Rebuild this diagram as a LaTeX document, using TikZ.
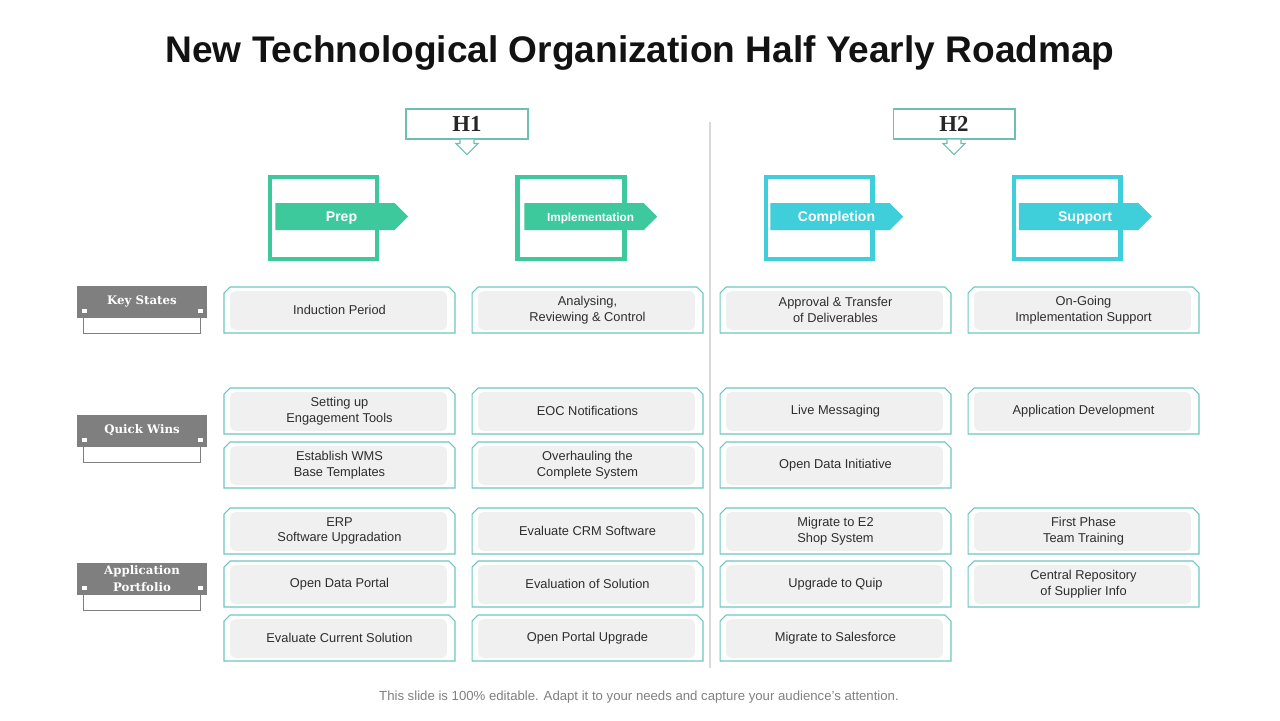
\documentclass[tikz,border=0pt]{standalone}
\usepackage{fontspec}
\setmainfont{Liberation Sans}
\newfontfamily\hfont{Liberation Serif}
\newfontfamily\lblfont{DejaVu Serif}
\usetikzlibrary{shapes.misc, shapes.symbols, positioning}
\definecolor{phgreen}{RGB}{61,201,155}
\definecolor{phcyan}{RGB}{62,207,219}
\definecolor{taskline}{RGB}{110,196,190}
\definecolor{hline}{RGB}{110,190,178}
\definecolor{boxgrey}{RGB}{240,240,240}
\definecolor{lblgrey}{RGB}{127,127,127}
\definecolor{txtgrey}{RGB}{45,45,45}
\definecolor{divgrey}{RGB}{217,217,217}
\definecolor{footgrey}{RGB}{128,128,128}
\tikzset{
  taskbox/.style={chamfered rectangle, chamfered rectangle corners={north west,north east},
    chamfered rectangle sep=0.06cm, draw=taskline, line width=0.6pt,
    minimum width=4.62cm, minimum height=0.92cm, inner sep=0pt, align=center,
    text=txtgrey, font=\fontsize{7.3}{9}\selectfont,
    path picture={\fill[boxgrey, rounded corners=3pt]
      ([xshift=0.12cm,yshift=-0.08cm]path picture bounding box.north west) rectangle
      ([xshift=-0.16cm,yshift=0.06cm]path picture bounding box.south east);}},
  phframe/.style={draw=#1, line width=2.3pt, minimum width=2.14cm, minimum height=1.64cm, inner sep=0pt},
  phtag/.style={signal, signal to=east, fill=#1, text=white, minimum width=2.66cm,
    minimum height=0.54cm, inner sep=0pt, text height=5.7pt, text depth=0pt,
    font=\bfseries\fontsize{8}{9}\selectfont},
  hbox/.style={draw=hline, line width=0.6pt, fill=white, minimum width=2.44cm, minimum height=0.6cm,
    inner sep=0pt, text=black!85, font=\hfont\bfseries\fontsize{13}{14}\selectfont},
  lblbox/.style={fill=lblgrey, minimum width=2.6cm, minimum height=0.64cm, inner sep=0pt,
    align=center, text=white, font=\lblfont\bfseries\fontsize{6.7}{9.5}\selectfont},
  lblline/.style={draw=lblgrey, line width=0.6pt}
}

\begin{document}
\begin{tikzpicture}[x=0.02cm,y=-0.02cm]
\useasboundingbox (0,0) rectangle (1280,720);
%title and footer
\node[anchor=base, font=\bfseries\fontsize{21.1}{24}\selectfont, text=black!93] (title) at (640,62.7) {New Technological Organization Half Yearly Roadmap};
\node[font=\fontsize{7.5}{9}\selectfont, text=footgrey] (foot) at (639,697) {This slide is 100\% editable. Adapt it to your needs and capture your audience's attention.};
\draw[divgrey, line width=0.8pt] (710,122) -- (710,668);

%half year boxes
\node[hbox] (h1) at (467,124) {H1};
\node[hbox] (h2) at (954,124) {H2};
\foreach \h in {h1,h2}
  \draw[hline, line width=0.6pt, fill=white] ([xshift=-0.14cm]\h.south) -- ++(0,4) -- ++(-4,0) -- ++(11,11) -- ++(11,-11) -- ++(-4,0) -- ++(0,-4);

%phases
\foreach \fx/\tx/\col/\nm/\lbl in {323.5/341.5/phgreen/prep/{Prep}, 571/590.5/phgreen/impl/{\fontsize{6.7}{8}\selectfont Implementation},
  819/836.5/phcyan/comp/{Completion}, 1067/1085/phcyan/supp/{Support}}{
  \node[phframe=\col] (f\nm) at (\fx,218) {};
  \node[phtag=\col] (\nm) at (\tx-6.5,216.5) {\hspace*{0.26cm}\lbl};
}

%row labels
\node[lblbox] (ks) at (142,301.5) {Key States};
\node[lblbox] (qw) at (142,430.5) {Quick Wins};
\node[lblbox] (ap) at (142,578.5) {Application\\Portfolio};
\foreach \l in {ks,qw,ap}{
  \draw[lblline] ([xshift=0.14cm]\l.south west) -- ++(0,16) -| ([xshift=-0.14cm]\l.south east);
  \draw[lblline, fill=white] ([xshift=0.1cm,yshift=0.08cm]\l.south west) rectangle ++(6,-5);
  \draw[lblline, fill=white] ([xshift=-0.2cm,yshift=0.08cm]\l.south east) rectangle ++(6,-5);
}

%tasks
\node[taskbox] (prep1) at (339.5,310) {Induction Period};
\node[taskbox] (prep2) at (339.5,411) {Setting up\\Engagement Tools};
\node[taskbox] (prep3) at (339.5,465) {Establish WMS\\Base Templates};
\node[taskbox] (prep4) at (339.5,531) {ERP\\Software Upgradation};
\node[taskbox] (prep5) at (339.5,584) {Open Data Portal};
\node[taskbox] (prep6) at (339.5,638) {Evaluate Current Solution};

\node[taskbox] (impl1) at (587.5,310) {Analysing,\\Reviewing \& Control};
\node[taskbox] (impl2) at (587.5,411) {EOC Notifications};
\node[taskbox] (impl3) at (587.5,465) {Overhauling the\\Complete System};
\node[taskbox] (impl4) at (587.5,531) {Evaluate CRM Software};
\node[taskbox] (impl5) at (587.5,584) {Evaluation of Solution};
\node[taskbox] (impl6) at (587.5,638) {Open Portal Upgrade};

\node[taskbox] (comp1) at (835.5,310) {Approval \& Transfer\\of Deliverables};
\node[taskbox] (comp2) at (835.5,411) {Live Messaging};
\node[taskbox] (comp3) at (835.5,465) {Open Data Initiative};
\node[taskbox] (comp4) at (835.5,531) {Migrate to E2\\Shop System};
\node[taskbox] (comp5) at (835.5,584) {Upgrade to Quip};
\node[taskbox] (comp6) at (835.5,638) {Migrate to Salesforce};

\node[taskbox] (supp1) at (1083.5,310) {On-Going\\Implementation Support};
\node[taskbox] (supp2) at (1083.5,411) {Application Development};
\node[taskbox] (supp4) at (1083.5,531) {First Phase\\Team Training};
\node[taskbox] (supp5) at (1083.5,584) {Central Repository\\of Supplier Info};
\end{tikzpicture}
\end{document}
